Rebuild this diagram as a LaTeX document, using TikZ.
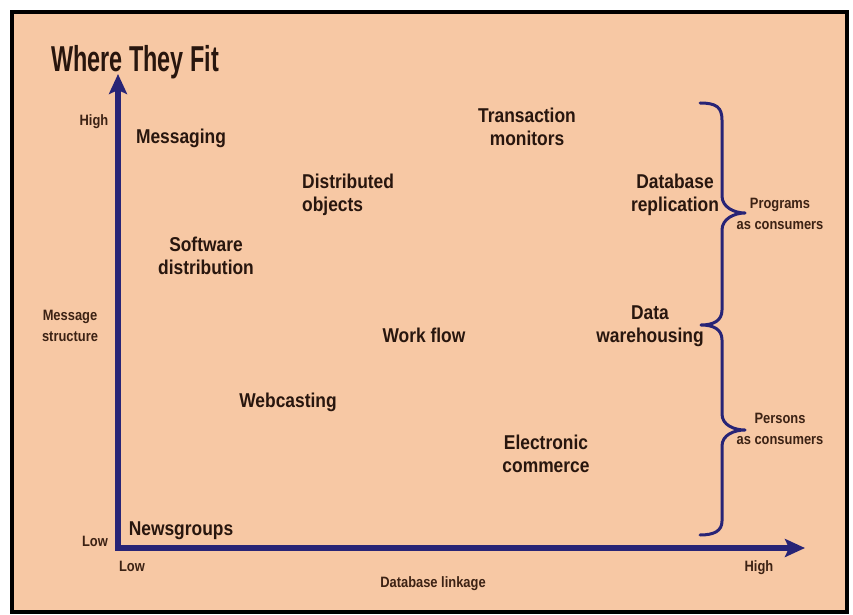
\documentclass[tikz,border=0pt]{standalone}
\usepackage{fontspec}
\setmainfont{Liberation Sans}
\newfontfamily\titlefont{Liberation Sans}[FakeStretch=0.65]
\newfontfamily\lblfont{Liberation Sans}[FakeStretch=0.87]
\newfontfamily\smallfont{Liberation Sans}[FakeStretch=0.86]
\usetikzlibrary{arrows.meta}
\definecolor{peach}{RGB}{247,200,164}
\definecolor{navy}{RGB}{40,36,118}
\definecolor{ink}{RGB}{40,22,14}
\definecolor{inksoft}{RGB}{60,34,20}
\tikzset{
  lbl/.style={font=\lblfont\bfseries\fontsize{20}{23}\selectfont, text=ink, align=center, inner sep=0pt},
  axlbl/.style={font=\smallfont\bfseries\fontsize{15}{21}\selectfont, text=inksoft, align=center, inner sep=0pt},
  axisline/.style={draw=navy, line width=5.5pt, line join=miter,
    {Stealth[length=20pt,width=18pt,inset=4pt]}-{Stealth[length=20pt,width=18pt,inset=4pt]}},
  bracestyle/.style={draw=navy, line width=3pt, line cap=round, line join=round}
}
\begin{document}
\begin{tikzpicture}[x=1pt,y=-1pt]
\useasboundingbox (0,0) rectangle (853,615);
\fill[white] (0,0) rectangle (853,615);
\draw[fill=peach, line width=4pt] (12,12) rectangle (847,612);

% title
\node[anchor=base west, inner sep=0pt, text=ink, font=\titlefont\bfseries\fontsize{36}{40}\selectfont] (title) at (51,72) {Where They Fit};

% axes
\coordinate (O) at (118,548);
\coordinate (ytip) at (118,74);
\coordinate (xtip) at (805,548);
\draw[axisline] (ytip) -- (O) -- (xtip);

% axis labels
\node[axlbl] (yhigh) at (94,122) {High};
\node[axlbl] (ylow) at (95,541) {Low};
\node[axlbl] (ystruct) at (70,326) {Message\\structure};
\node[axlbl] (xlow) at (132,566) {Low};
\node[axlbl] (xhigh) at (759,568) {High};
\node[axlbl] (xlink) at (433,584) {Database linkage};

% items
\node[lbl] (msg) at (181,138) {Messaging};
\node[lbl] (tm) at (527,127) {Transaction\\monitors};
\node[lbl, align=left, anchor=west] (dobj) at (302,195) {Distributed\\objects};
\node[lbl] (dbr) at (675,195) {Database\\replication};
\node[lbl] (sw) at (206,256) {Software\\distribution};
\node[lbl] (wf) at (424,335) {Work flow};
\node[lbl] (dw) at (650,326) {Data\\warehousing};
\node[lbl] (wc) at (288,402) {Webcasting};
\node[lbl] (ec) at (546,454) {Electronic\\commerce};
\node[lbl] (ng) at (181,531) {Newsgroups};

% brace
\draw[bracestyle] (700,103) .. controls (716,103) and (722,107) .. (722,120)
  -- (722,196) .. controls (722,207) and (734,213) .. (745,213)
  .. controls (734,213) and (722,219) .. (722,230)
  -- (722,310) .. controls (722,321) and (713,325) .. (701,325)
  .. controls (713,325) and (722,329) .. (722,340)
  -- (722,414) .. controls (722,425) and (734,430) .. (745,430)
  .. controls (734,430) and (722,435) .. (722,446)
  -- (722,521) .. controls (722,531) and (714,535) .. (700,535);

\node[axlbl] (prog) at (780,214) {Programs\\as consumers};
\node[axlbl] (pers) at (780,429) {Persons\\as consumers};
\end{tikzpicture}
\end{document}
